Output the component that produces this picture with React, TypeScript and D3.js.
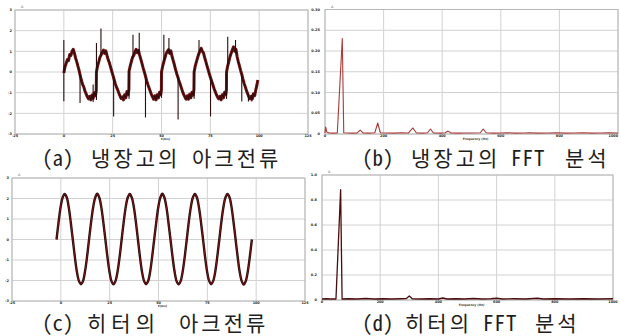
import * as d3 from "d3";
import React from "react";

// (a) refrigerator arc current, main sawtooth [time ms, current]
const fridgeWave: [number, number][] = [
  [0.0, -0.05], [0.6, 0.25], [1.2, 0.42], [1.8, 0.6], [2.4, 0.55], [3.0, 0.85], [3.6, 0.8], [4.2, 1.0],
  [4.8, 1.1], [5.4, 0.92], [6.0, 0.68], [6.6, 0.5], [7.2, 0.28], [7.8, 0.08], [8.4, -0.18], [9.0, -0.4],
  [9.6, -0.6], [10.2, -0.72], [10.8, -0.92], [11.4, -1.05], [12.0, -1.2], [12.6, -1.3], [13.2, -1.18],
  [13.8, -1.35], [14.4, -1.12], [15.0, -1.28], [15.6, -1.0], [16.2, -1.15], [16.6, -0.9],
  [16.7, 0.0], [17.3, 0.3], [17.9, 0.5], [18.5, 0.72], [19.1, 0.82], [19.7, 0.97], [20.3, 1.06],
  [20.9, 0.9], [21.5, 1.02], [22.1, 0.8], [22.7, 0.6], [23.3, 0.45], [23.9, 0.25], [24.5, 0.05],
  [25.1, -0.15], [25.7, -0.35], [26.3, -0.55], [26.9, -0.72], [27.5, -0.85], [28.1, -1.0], [28.7, -1.15],
  [29.3, -1.28], [29.9, -1.2], [30.5, -1.35], [31.1, -1.1], [31.7, -1.25], [32.3, -0.95], [32.9, -1.1],
  [33.3, -0.85],
  [33.4, 0.05], [34.0, 0.3], [34.6, 0.52], [35.2, 0.72], [35.8, 0.8], [36.4, 0.97], [37.0, 1.1],
  [37.6, 0.93], [38.2, 1.05], [38.8, 0.82], [39.4, 0.62], [40.0, 0.42], [40.6, 0.2], [41.2, 0.0],
  [41.8, -0.2], [42.4, -0.42], [43.0, -0.6], [43.6, -0.76], [44.2, -0.92], [44.8, -1.08], [45.4, -1.2],
  [46.0, -1.32], [46.6, -1.15], [47.2, -1.35], [47.8, -1.1], [48.4, -1.25], [49.0, -0.98], [49.6, -1.1],
  [49.95, -0.85],
  [50.0, 0.0], [50.6, 0.28], [51.2, 0.5], [51.8, 0.7], [52.4, 0.9], [53.0, 1.0], [53.6, 1.08],
  [54.2, 0.9], [54.8, 1.02], [55.4, 0.75], [56.0, 0.55], [56.6, 0.35], [57.2, 0.12], [57.8, -0.08],
  [58.4, -0.25], [59.0, -0.45], [59.6, -0.6], [60.2, -0.78], [60.8, -0.95], [61.4, -1.1], [62.0, -1.22],
  [62.6, -1.32], [63.2, -1.15], [63.8, -1.32], [64.4, -1.08], [65.0, -1.25], [65.6, -0.98], [66.2, -1.12],
  [66.6, -0.85],
  [66.7, 0.0], [67.3, 0.3], [67.9, 0.5], [68.5, 0.7], [69.1, 0.88], [69.7, 1.02], [70.3, 1.15],
  [70.9, 1.0], [71.5, 0.92], [72.1, 0.7], [72.7, 0.5], [73.3, 0.3], [73.9, 0.1], [74.5, -0.1],
  [75.1, -0.28], [75.7, -0.45], [76.3, -0.62], [76.9, -0.8], [77.5, -0.95], [78.1, -1.1], [78.7, -1.22],
  [79.3, -1.3], [79.9, -1.18], [80.5, -1.35], [81.1, -1.1], [81.7, -1.25], [82.3, -0.98], [82.9, -1.1],
  [83.25, -0.85],
  [83.3, 0.0], [83.9, 0.3], [84.5, 0.52], [85.1, 0.75], [85.7, 0.92], [86.3, 1.08], [86.9, 1.22],
  [87.5, 1.0], [88.1, 1.1], [88.7, 0.75], [89.3, 0.5], [89.9, 0.3], [90.5, 0.08], [91.1, -0.12],
  [91.7, -0.35], [92.3, -0.55], [92.9, -0.72], [93.5, -0.9], [94.1, -1.05], [94.7, -1.2], [95.3, -1.3],
  [95.9, -1.18], [96.5, -1.3], [97.1, -1.05], [97.7, -1.15], [98.3, -0.85], [98.9, -0.6], [99.3, -0.39],
];

// (a) arc spikes: [time ms, low, high]
const fridgeSpikes: [number, number, number][] = [
  [0.0, -1.42, 1.55], [8.3, -1.5, -0.1], [15.0, -1.45, -0.6],
  [16.7, -1.35, 1.4], [19.0, 0.8, 2.1], [25.5, -2.15, -0.2],
  [33.4, -1.3, 0.1], [35.4, 0.7, 1.8], [38.6, 0.85, 1.9], [41.8, -2.2, -0.1],
  [50.0, -1.25, 0.05], [51.2, 0.5, 1.8], [53.8, 0.9, 1.65], [58.5, -2.3, -0.2],
  [66.7, -1.3, 0.05], [69.2, 0.85, 1.55], [75.1, -2.15, -0.25],
  [83.3, -1.3, 0.05], [83.9, 0.3, 1.7], [87.9, 0.9, 1.55], [91.1, -1.43, -0.1], [94.5, -1.43, -1.0],
  [96.2, -1.43, -1.1],
];

// (c) heater arc current, sampled every heaterStepMs from heaterStartMs
const heaterStartMs = -2.2;
const heaterStepMs = 1.0417;
const heaterCurrent: number[] = [
  0.0, 0.85, 1.58, 2.05, 2.22, 2.06, 1.57, 0.83, 0.0, -0.85, -1.57, -2.02, -2.18, -2.03, -1.55, -0.84,
  0.02, 0.86, 1.57, 2.04, 2.23, 2.05, 1.58, 0.84, 0.01, -0.84, -1.56, -2.03, -2.19, -2.02, -1.56, -0.85,
  0.0, 0.85, 1.58, 2.05, 2.22, 2.04, 1.57, 0.85, 0.0, -0.85, -1.57, -2.02, -2.18, -2.03, -1.57, -0.84,
  0.01, 0.84, 1.57, 2.04, 2.23, 2.05, 1.58, 0.83, 0.0, -0.84, -1.56, -2.03, -2.19, -2.03, -1.56, -0.85,
  0.0, 0.86, 1.58, 2.05, 2.22, 2.05, 1.56, 0.84, 0.01, -0.85, -1.57, -2.02, -2.18, -2.02, -1.57, -0.84,
  0.0, 0.85, 1.57, 2.04, 2.22, 2.06, 1.58, 0.84, 0.0, -0.84, -1.57, -2.03, -2.2, -2.03, -1.56, -0.83,
  0.0,
];

// (b) refrigerator spectrum, [Hz, magnitude]
const fridgeSpectrum: [number, number][] = [
  [0, 0.05], [2, 0.34], [6, 0.1], [14, 0.05], [28, 0.04], [42, 0.05], [59, 4.6], [64, 0.06],
  [78, 0.05], [95, 0.04], [110, 0.05], [120, 0.19], [130, 0.05], [150, 0.04], [170, 0.06],
  [180, 0.53], [189, 0.06], [210, 0.05], [235, 0.04], [260, 0.06], [285, 0.05], [300, 0.29],
  [312, 0.05], [335, 0.04], [350, 0.06], [360, 0.24], [370, 0.05], [395, 0.04], [410, 0.06],
  [420, 0.14], [430, 0.05], [455, 0.04], [475, 0.05], [500, 0.05], [530, 0.06], [540, 0.24],
  [550, 0.06], [575, 0.04], [600, 0.05], [625, 0.06], [650, 0.04], [680, 0.05], [700, 0.06],
  [725, 0.04], [760, 0.05], [790, 0.06], [820, 0.04], [850, 0.05], [880, 0.06], [910, 0.04],
  [940, 0.05], [970, 0.06], [1000, 0.05],
];

// (d) heater spectrum, [Hz, magnitude]
const heaterSpectrum: [number, number][] = [
  [0, 0.04], [15, 0.05], [30, 0.04], [48, 0.04], [64, 4.41], [69, 0.04], [90, 0.05], [120, 0.04],
  [150, 0.06], [180, 0.04], [210, 0.05], [240, 0.04], [270, 0.05], [290, 0.06], [300, 0.16],
  [310, 0.05], [340, 0.04], [370, 0.05], [400, 0.04], [415, 0.08], [430, 0.04], [460, 0.05],
  [490, 0.04], [520, 0.06], [550, 0.04], [580, 0.05], [600, 0.07], [620, 0.04], [660, 0.05],
  [700, 0.04], [740, 0.07], [760, 0.04], [800, 0.05], [850, 0.04], [900, 0.05], [950, 0.04],
  [1000, 0.05],
];

const timeTicks = [-25, 0, 25, 50, 75, 100, 125];
const timeTickLabels = ["-25", "0", "25", "50", "75", "100", "125"];
const currentTicks = [-3, -2, -1, 0, 1, 2, 3];
const currentTickLabels = ["-3", "-2", "-1", "0", "1", "2", "3"];
const freqTicks = [0, 200, 400, 600, 800, 1000];
const freqTickLabels = ["0", "200", "400", "600", "800", "1000"];
const fridgeMagTicks = [0, 1, 2, 3, 4, 5, 6];
const fridgeMagTickLabels = ["0", "0.05", "0.10", "0.15", "0.20", "0.25", "0.30"];
const heaterMagTicks = [0, 1, 2, 3, 4, 5];
const heaterMagTickLabels = ["0", "0.2", "0.4", "0.6", "0.8", "1.0"];

// caption pieces: [text, x, letter spacing]
const captionA: [string, number, number][] = [["(a)", 42, 0], ["냉장고의", 91, 3], ["아크전류", 192, 3]];
const captionB: [string, number, number][] = [["(b)", 362, 0], ["냉장고의", 411, 3], ["FFT", 511, 1], ["분석", 565, 3]];
const captionC: [string, number, number][] = [["(c)", 42, 0], ["히터의", 87, 5], ["아크전류", 179, 3]];
const captionD: [string, number, number][] = [["(d)", 362, 0], ["히터의", 405, 3], ["FFT", 483, 1], ["분석", 535, 3]];

type Trace = { points: [number, number][]; stroke: string; width: number; curve?: d3.CurveFactory };

type PanelProps = {
  id: string;
  frame: { left: number; right: number; top: number; bottom: number };
  xDomain: [number, number];
  yDomain: [number, number];
  xTicks: number[];
  xTickLabels: string[];
  yTicks: number[];
  yTickLabels: string[];
  yLabelGap: number;
  unit: string;
  xTitle: string;
  xTitleDy: number;
  traces: Trace[];
  spikes?: [number, number, number][];
};

const tinyFont = "DejaVu Sans, sans-serif";

class Panel extends React.Component<PanelProps> {
  ref = React.createRef<SVGGElement>();

  componentDidMount() {
    this.draw();
  }

  draw() {
    const { frame, xDomain, yDomain, xTicks, xTickLabels, yTicks, yTickLabels, traces } = this.props;
    const g = d3.select(this.ref.current);
    const x = d3.scaleLinear().domain(xDomain).range([frame.left, frame.right]);
    const y = d3.scaleLinear().domain(yDomain).range([frame.bottom, frame.top]);

    // grid
    g.selectAll("line.hgrid")
      .data(yTicks)
      .join("line")
      .attr("class", "hgrid")
      .attr("x1", frame.left).attr("x2", frame.right)
      .attr("y1", (d) => y(d)).attr("y2", (d) => y(d))
      .attr("stroke", "#d2d2d2").attr("stroke-width", 1);
    g.selectAll("line.vgrid")
      .data(xTicks)
      .join("line")
      .attr("class", "vgrid")
      .attr("x1", (d) => x(d)).attr("x2", (d) => x(d))
      .attr("y1", frame.top).attr("y2", frame.bottom)
      .attr("stroke", "#d2d2d2").attr("stroke-width", 1);
    g.selectAll("rect.frame")
      .data([0])
      .join("rect")
      .attr("class", "frame")
      .attr("x", frame.left).attr("y", frame.top)
      .attr("width", frame.right - frame.left).attr("height", frame.bottom - frame.top)
      .attr("fill", "none").attr("stroke", "#b8b8b8").attr("stroke-width", 1);

    // tiny tick labels
    g.selectAll("text.ylab")
      .data(yTicks)
      .join("text")
      .attr("class", "ylab")
      .attr("x", frame.left - this.props.yLabelGap)
      .attr("y", (d) => y(d) + 1.2)
      .attr("text-anchor", "end")
      .attr("font-size", 3.5).attr("font-weight", "bold")
      .attr("font-family", tinyFont).attr("fill", "#222")
      .text((d, i) => yTickLabels[i]);
    g.selectAll("text.xlab")
      .data(xTicks)
      .join("text")
      .attr("class", "xlab")
      .attr("x", (d) => x(d))
      .attr("y", frame.bottom + 3.2)
      .attr("text-anchor", (d) => (x(d) > 614 ? "end" : "middle"))
      .attr("font-size", 3.4).attr("font-weight", "bold")
      .attr("font-family", tinyFont).attr("fill", "#222")
      .text((d, i) => xTickLabels[i]);
    g.selectAll("text.unit")
      .data([this.props.unit])
      .join("text")
      .attr("class", "unit")
      .attr("x", frame.left + 6).attr("y", frame.top - 2)
      .attr("font-size", 3.4).attr("font-family", tinyFont).attr("fill", "#555")
      .text((d) => d);
    g.selectAll("text.xtitle")
      .data([this.props.xTitle])
      .join("text")
      .attr("class", "xtitle")
      .attr("x", (frame.left + frame.right) / 2 + 4).attr("y", frame.bottom + this.props.xTitleDy)
      .attr("text-anchor", "middle")
      .attr("font-size", 3).attr("font-weight", "bold")
      .attr("font-family", tinyFont).attr("fill", "#333")
      .text((d) => d);

    // signal traces
    g.selectAll("path.trace")
      .data(traces)
      .join("path")
      .attr("class", "trace")
      .attr("d", (t) =>
        d3.line<[number, number]>()
          .x((p) => x(p[0]))
          .y((p) => y(p[1]))
          .curve(t.curve || d3.curveLinear)(t.points)
      )
      .attr("fill", "none")
      .attr("stroke", (t) => t.stroke)
      .attr("stroke-width", (t) => t.width)
      .attr("stroke-linejoin", "round");

    // arc spikes
    g.selectAll("line.spike")
      .data(this.props.spikes || [])
      .join("line")
      .attr("class", "spike")
      .attr("x1", (d) => x(d[0])).attr("x2", (d) => x(d[0]))
      .attr("y1", (d) => y(d[1])).attr("y2", (d) => y(d[2]))
      .attr("stroke", "#2a0d0d").attr("stroke-width", 1.1);
  }

  render() {
    return <g id={this.props.id} ref={this.ref}></g>;
  }
}

const heaterPoints: [number, number][] = heaterCurrent.map((v, i) => [heaterStartMs + i * heaterStepMs, v]);

const captionFont = "'Noto Sans Mono CJK KR', 'Noto Sans CJK KR', sans-serif";

function Caption({ pieces, y }: { pieces: [string, number, number][]; y: number }) {
  return (
    <g fontFamily={captionFont} fontSize={21} fill="#1e1e1e">
      {pieces.map(([t, x, ls]) => (
        <text key={t + x} x={x} y={y} letterSpacing={ls}>{t}</text>
      ))}
    </g>
  );
}

export default function App() {
  return (
    <svg width={620} height={336} style={{ position: "absolute", left: 0, top: 0, background: "#fff" }}>
      <rect x={0} y={0} width={620} height={336} fill="#fff" />
      <Panel
        id="panel-a"
        frame={{ left: 15, right: 308, top: 10, bottom: 134 }}
        xDomain={[-25, 125]} yDomain={[-3, 3]}
        xTicks={timeTicks} xTickLabels={timeTickLabels}
        yTicks={currentTicks} yTickLabels={currentTickLabels}
        yLabelGap={3} unit="A" xTitle="t(ms)" xTitleDy={6.3}
        traces={[
          { points: fridgeWave, stroke: "#681414", width: 3 },
          { points: fridgeWave, stroke: "#1a0505", width: 0.7 },
        ]}
        spikes={fridgeSpikes}
      />
      <Panel
        id="panel-b"
        frame={{ left: 325, right: 618, top: 9.5, bottom: 134 }}
        xDomain={[0, 1000]} yDomain={[0, 6]}
        xTicks={freqTicks} xTickLabels={freqTickLabels}
        yTicks={fridgeMagTicks} yTickLabels={fridgeMagTickLabels}
        yLabelGap={5} unit="A" xTitle="Frequency (Hz)" xTitleDy={6.3}
        traces={[{ points: fridgeSpectrum, stroke: "#a83a3a", width: 1.1 }]}
      />
      <Panel
        id="panel-c"
        frame={{ left: 12, right: 305, top: 178, bottom: 301 }}
        xDomain={[-25, 125]} yDomain={[-3, 3]}
        xTicks={timeTicks} xTickLabels={timeTickLabels}
        yTicks={currentTicks} yTickLabels={currentTickLabels}
        yLabelGap={3} unit="A" xTitle="t(ms)" xTitleDy={6}
        traces={[
          { points: heaterPoints, stroke: "#2a0808", width: 2.4, curve: d3.curveCatmullRom },
          { points: heaterPoints, stroke: "#8b1a1a", width: 0.8, curve: d3.curveCatmullRom },
        ]}
      />
      <Panel
        id="panel-d"
        frame={{ left: 322, right: 613, top: 175, bottom: 300 }}
        xDomain={[0, 1000]} yDomain={[0, 5]}
        xTicks={freqTicks} xTickLabels={freqTickLabels}
        yTicks={heaterMagTicks} yTickLabels={heaterMagTickLabels}
        yLabelGap={5} unit="A" xTitle="Frequency (Hz)" xTitleDy={6}
        traces={[{ points: heaterSpectrum, stroke: "#4a0c0c", width: 1.3 }]}
      />

      <Caption pieces={captionA} y={165.5} />
      <Caption pieces={captionB} y={165.5} />
      <Caption pieces={captionC} y={331} />
      <Caption pieces={captionD} y={331} />
    </svg>
  );
}
